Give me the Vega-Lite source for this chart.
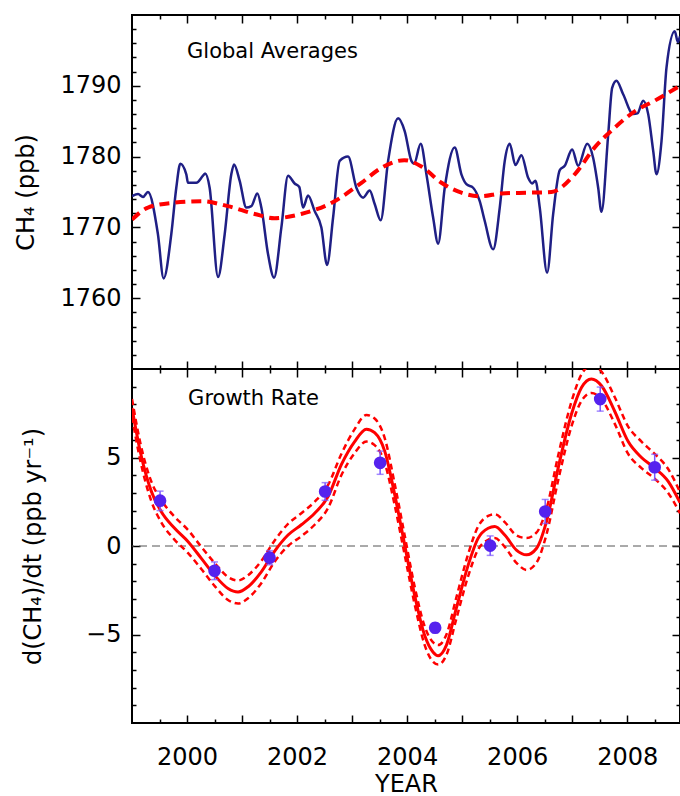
{
  "$schema": "https://vega.github.io/schema/vega-lite/v6.json",
  "padding": {"left": 13, "top": 13, "right": 0, "bottom": 0},
  "spacing": 0,
  "bounds": "flush",
  "config": {
    "font": "DejaVu Sans",
    "view": {"stroke": "black", "strokeWidth": 2},
    "axis": {"domain": false, "grid": false, "labelFont": "DejaVu Sans", "labelFontSize": 24, "labelColor": "black", "tickColor": "black", "tickWidth": 1.5, "titleFont": "DejaVu Sans", "titleFontSize": 24, "titleFontWeight": "normal", "titleColor": "black", "labelOverlap": false, "labelFlush": false}
  },
  "datasets": {
    "ga": [
      {"year": 1999.0, "ch4": 1774.4}, {"year": 1999.11, "ch4": 1774.7}, {"year": 1999.2, "ch4": 1774.3}, {"year": 1999.29, "ch4": 1775.0},
      {"year": 1999.47, "ch4": 1769.1}, {"year": 1999.575, "ch4": 1762.8}, {"year": 1999.715, "ch4": 1769.1}, {"year": 1999.805, "ch4": 1775.6},
      {"year": 1999.878, "ch4": 1779.0}, {"year": 1999.987, "ch4": 1777.5}, {"year": 2000.018, "ch4": 1776.3}, {"year": 2000.169, "ch4": 1776.3},
      {"year": 2000.291, "ch4": 1777.3}, {"year": 2000.33, "ch4": 1777.6}, {"year": 2000.411, "ch4": 1775.6}, {"year": 2000.564, "ch4": 1763.0},
      {"year": 2000.684, "ch4": 1769.0}, {"year": 2000.805, "ch4": 1777.5}, {"year": 2000.855, "ch4": 1778.9}, {"year": 2000.956, "ch4": 1776.6},
      {"year": 2001.078, "ch4": 1772.8}, {"year": 2001.169, "ch4": 1773.0}, {"year": 2001.278, "ch4": 1774.8}, {"year": 2001.351, "ch4": 1772.8},
      {"year": 2001.473, "ch4": 1766.2}, {"year": 2001.582, "ch4": 1762.9}, {"year": 2001.715, "ch4": 1770.0}, {"year": 2001.836, "ch4": 1777.3},
      {"year": 2001.956, "ch4": 1776.2}, {"year": 2002.04, "ch4": 1775.7}, {"year": 2002.109, "ch4": 1772.8}, {"year": 2002.2, "ch4": 1774.5},
      {"year": 2002.32, "ch4": 1772.3}, {"year": 2002.442, "ch4": 1770.0}, {"year": 2002.545, "ch4": 1764.7}, {"year": 2002.655, "ch4": 1771.4},
      {"year": 2002.775, "ch4": 1779.4}, {"year": 2002.927, "ch4": 1780.0}, {"year": 2003.078, "ch4": 1775.6}, {"year": 2003.2, "ch4": 1774.2},
      {"year": 2003.32, "ch4": 1775.2}, {"year": 2003.411, "ch4": 1773.3}, {"year": 2003.52, "ch4": 1771.0}, {"year": 2003.655, "ch4": 1779.4},
      {"year": 2003.836, "ch4": 1785.4}, {"year": 2003.956, "ch4": 1783.6}, {"year": 2004.078, "ch4": 1779.4}, {"year": 2004.127, "ch4": 1779.0},
      {"year": 2004.247, "ch4": 1781.8}, {"year": 2004.351, "ch4": 1777.5}, {"year": 2004.473, "ch4": 1771.4}, {"year": 2004.564, "ch4": 1767.7},
      {"year": 2004.684, "ch4": 1775.6}, {"year": 2004.865, "ch4": 1781.3}, {"year": 2004.987, "ch4": 1777.5}, {"year": 2005.078, "ch4": 1776.1},
      {"year": 2005.2, "ch4": 1775.6}, {"year": 2005.32, "ch4": 1773.7}, {"year": 2005.411, "ch4": 1770.9}, {"year": 2005.564, "ch4": 1766.9},
      {"year": 2005.684, "ch4": 1772.8}, {"year": 2005.775, "ch4": 1779.4}, {"year": 2005.865, "ch4": 1781.8}, {"year": 2005.969, "ch4": 1778.8},
      {"year": 2006.078, "ch4": 1780.2}, {"year": 2006.2, "ch4": 1777.0}, {"year": 2006.273, "ch4": 1776.2}, {"year": 2006.333, "ch4": 1776.6},
      {"year": 2006.411, "ch4": 1772.8}, {"year": 2006.545, "ch4": 1763.6}, {"year": 2006.655, "ch4": 1771.9}, {"year": 2006.775, "ch4": 1778.1},
      {"year": 2006.865, "ch4": 1778.7}, {"year": 2007.0, "ch4": 1781.0}, {"year": 2007.109, "ch4": 1778.7}, {"year": 2007.273, "ch4": 1781.8},
      {"year": 2007.382, "ch4": 1779.8}, {"year": 2007.473, "ch4": 1775.6}, {"year": 2007.533, "ch4": 1772.2}, {"year": 2007.655, "ch4": 1783.1},
      {"year": 2007.727, "ch4": 1789.7}, {"year": 2007.805, "ch4": 1790.7}, {"year": 2007.927, "ch4": 1788.8}, {"year": 2008.109, "ch4": 1786.0},
      {"year": 2008.187, "ch4": 1786.1}, {"year": 2008.291, "ch4": 1787.9}, {"year": 2008.382, "ch4": 1786.0}, {"year": 2008.473, "ch4": 1780.8},
      {"year": 2008.533, "ch4": 1777.5}, {"year": 2008.624, "ch4": 1782.2}, {"year": 2008.715, "ch4": 1792.6}, {"year": 2008.865, "ch4": 1797.7},
      {"year": 2008.92, "ch4": 1796.2}, {"year": 2008.96, "ch4": 1797.0}
    ],
    "trend": [
      {"year": 1999.0, "ch4": 1771.1}, {"year": 1999.29, "ch4": 1772.8}, {"year": 1999.775, "ch4": 1773.5}, {"year": 2000.26, "ch4": 1773.7},
      {"year": 2000.745, "ch4": 1773.0}, {"year": 2001.23, "ch4": 1771.9}, {"year": 2001.59, "ch4": 1771.3}, {"year": 2002.075, "ch4": 1771.9},
      {"year": 2002.684, "ch4": 1773.7}, {"year": 2003.17, "ch4": 1776.3}, {"year": 2003.53, "ch4": 1778.4}, {"year": 2003.95, "ch4": 1779.5},
      {"year": 2004.26, "ch4": 1778.6}, {"year": 2004.624, "ch4": 1776.3}, {"year": 2004.987, "ch4": 1774.9}, {"year": 2005.35, "ch4": 1774.4},
      {"year": 2005.715, "ch4": 1774.8}, {"year": 2006.2, "ch4": 1774.9}, {"year": 2006.624, "ch4": 1775.0}, {"year": 2007.047, "ch4": 1777.5},
      {"year": 2007.41, "ch4": 1781.3}, {"year": 2007.775, "ch4": 1784.1}, {"year": 2008.138, "ch4": 1786.4}, {"year": 2008.5, "ch4": 1787.9},
      {"year": 2008.96, "ch4": 1790.0}
    ],
    "rate": [
      {"year": 1999.0, "g": 7.8, "up": 8.3, "lo": 7.3}, {"year": 1999.16, "g": 5.2, "up": 5.7, "lo": 4.7},
      {"year": 1999.35, "g": 3.1, "up": 3.65, "lo": 2.55}, {"year": 1999.53, "g": 1.95, "up": 2.6, "lo": 1.35},
      {"year": 1999.775, "g": 1.0, "up": 1.65, "lo": 0.35}, {"year": 2000.02, "g": 0.24, "up": 0.9, "lo": -0.4},
      {"year": 2000.26, "g": -0.7, "up": -0.05, "lo": -1.3}, {"year": 2000.5, "g": -1.65, "up": -0.95, "lo": -2.25},
      {"year": 2000.745, "g": -2.4, "up": -1.75, "lo": -3.05}, {"year": 2000.927, "g": -2.6, "up": -1.95, "lo": -3.25},
      {"year": 2001.11, "g": -2.3, "up": -1.65, "lo": -2.95}, {"year": 2001.35, "g": -1.46, "up": -0.85, "lo": -2.1},
      {"year": 2001.59, "g": -0.3, "up": 0.3, "lo": -0.9}, {"year": 2001.836, "g": 0.62, "up": 1.25, "lo": 0.0},
      {"year": 2002.078, "g": 1.2, "up": 1.85, "lo": 0.55}, {"year": 2002.32, "g": 1.85, "up": 2.5, "lo": 1.2},
      {"year": 2002.564, "g": 2.8, "up": 3.45, "lo": 2.15}, {"year": 2002.805, "g": 4.6, "up": 5.2, "lo": 4.0},
      {"year": 2003.047, "g": 5.9, "up": 6.6, "lo": 5.25}, {"year": 2003.26, "g": 6.6, "up": 7.4, "lo": 5.9},
      {"year": 2003.41, "g": 6.4, "up": 7.2, "lo": 5.7}, {"year": 2003.593, "g": 5.36, "up": 6.1, "lo": 4.7},
      {"year": 2003.775, "g": 2.9, "up": 3.5, "lo": 2.3}, {"year": 2003.956, "g": 0.06, "up": 0.6, "lo": -0.5},
      {"year": 2004.138, "g": -2.8, "up": -2.3, "lo": -3.3}, {"year": 2004.32, "g": -5.06, "up": -4.55, "lo": -5.6},
      {"year": 2004.473, "g": -6.0, "up": -5.45, "lo": -6.55}, {"year": 2004.564, "g": -6.2, "up": -5.6, "lo": -6.7},
      {"year": 2004.715, "g": -5.6, "up": -5.0, "lo": -6.15}, {"year": 2004.896, "g": -3.5, "up": -2.9, "lo": -4.1},
      {"year": 2005.11, "g": -1.08, "up": -0.45, "lo": -1.7}, {"year": 2005.29, "g": 0.43, "up": 1.1, "lo": -0.2},
      {"year": 2005.473, "g": 1.0, "up": 1.7, "lo": 0.35}, {"year": 2005.593, "g": 1.1, "up": 1.8, "lo": 0.45},
      {"year": 2005.775, "g": 0.62, "up": 1.35, "lo": -0.05}, {"year": 2005.987, "g": -0.23, "up": 0.6, "lo": -0.95},
      {"year": 2006.17, "g": -0.5, "up": 0.45, "lo": -1.35}, {"year": 2006.35, "g": -0.14, "up": 0.75, "lo": -0.95},
      {"year": 2006.533, "g": 1.38, "up": 2.1, "lo": 0.65}, {"year": 2006.745, "g": 4.4, "up": 5.1, "lo": 3.7},
      {"year": 2006.987, "g": 7.44, "up": 8.15, "lo": 6.75}, {"year": 2007.17, "g": 8.95, "up": 9.7, "lo": 8.2},
      {"year": 2007.35, "g": 9.43, "up": 10.2, "lo": 8.65}, {"year": 2007.533, "g": 9.05, "up": 9.85, "lo": 8.3},
      {"year": 2007.775, "g": 7.6, "up": 8.4, "lo": 6.9}, {"year": 2008.018, "g": 5.9, "up": 6.75, "lo": 5.2},
      {"year": 2008.26, "g": 5.0, "up": 5.9, "lo": 4.4}, {"year": 2008.5, "g": 4.4, "up": 5.2, "lo": 3.8},
      {"year": 2008.745, "g": 3.65, "up": 4.35, "lo": 3.0}, {"year": 2008.96, "g": 2.45, "up": 3.05, "lo": 1.85}
    ],
    "obs": [
      {"year": 1999.51, "g": 2.56, "lo": 2.0, "hi": 3.1}, {"year": 2000.5, "g": -1.4, "lo": -1.9, "hi": -0.9},
      {"year": 2001.5, "g": -0.66, "lo": -1.06, "hi": -0.26}, {"year": 2002.51, "g": 3.08, "lo": 2.58, "hi": 3.58},
      {"year": 2003.51, "g": 4.7, "lo": 4.05, "hi": 5.36}, {"year": 2004.51, "g": -4.62, "lo": -4.9, "hi": -4.35},
      {"year": 2005.51, "g": 0.02, "lo": -0.53, "hi": 0.57}, {"year": 2006.51, "g": 1.95, "lo": 1.27, "hi": 2.63},
      {"year": 2007.51, "g": 8.3, "lo": 7.62, "hi": 8.98}, {"year": 2008.5, "g": 4.45, "lo": 3.72, "hi": 5.18}
    ],
    "zero": [{"g": 0}],
    "lab1": [{"label": "Global Averages"}],
    "lab2": [{"label": "Growth Rate"}]
  },
  "vconcat": [
    {
      "width": 548,
      "height": 354,
      "resolve": {"axis": {"x": "independent", "y": "independent"}},
      "layer": [
        {
          "data": {"name": "ga"},
          "mark": {"type": "line", "color": "#1f1f85", "strokeWidth": 2.5, "interpolate": "monotone", "clip": true},
          "encoding": {
            "x": {"field": "year", "type": "quantitative", "scale": {"domain": [1999, 2008.96], "nice": false, "zero": false},
              "axis": {"orient": "bottom", "title": null, "labels": false, "minExtent": 0, "maxExtent": 0, "values": [1999.5,2000,2000.5,2001,2001.5,2002,2002.5,2003,2003.5,2004,2004.5,2005,2005.5,2006,2006.5,2007,2007.5,2008,2008.5],
                "tickSize": {"condition": {"test": "datum.value % 1 === 0", "value": -8}, "value": -4}}},
            "y": {"field": "ch4", "type": "quantitative", "scale": {"domain": [1750, 1800], "nice": false, "zero": false},
              "axis": {"orient": "left", "title": "CH₄ (ppb)", "titleX": -99, "titleY": 177, "titleAngle": -90, "titleAlign": "center", "titleBaseline": "alphabetic",
                "values": [1752,1754,1756,1758,1760,1762,1764,1766,1768,1770,1772,1774,1776,1778,1780,1782,1784,1786,1788,1790,1792,1794,1796,1798],
                "labelExpr": "datum.value % 10 === 0 ? format(datum.value, 'd') : ''", "labelPadding": 19,
                "tickSize": {"condition": {"test": "datum.value % 10 === 0", "value": -8}, "value": -4}}}
          }
        },
        {
          "data": {"name": "trend"},
          "mark": {"type": "line", "color": "#ff0000", "strokeWidth": 4, "strokeDash": [10, 6], "interpolate": "monotone", "clip": true},
          "encoding": {
            "x": {"field": "year", "type": "quantitative", "scale": {"domain": [1999, 2008.96], "nice": false, "zero": false},
              "axis": {"orient": "top", "title": null, "labels": false, "minExtent": 0, "maxExtent": 0, "values": [1999.5,2000,2000.5,2001,2001.5,2002,2002.5,2003,2003.5,2004,2004.5,2005,2005.5,2006,2006.5,2007,2007.5,2008,2008.5],
                "tickSize": {"condition": {"test": "datum.value % 1 === 0", "value": -8}, "value": -4}}},
            "y": {"field": "ch4", "type": "quantitative", "scale": {"domain": [1750, 1800], "nice": false, "zero": false},
              "axis": {"orient": "right", "title": null, "labels": false, "minExtent": 0, "maxExtent": 0,
                "values": [1752,1754,1756,1758,1760,1762,1764,1766,1768,1770,1772,1774,1776,1778,1780,1782,1784,1786,1788,1790,1792,1794,1796,1798],
                "tickSize": {"condition": {"test": "datum.value % 10 === 0", "value": -8}, "value": -4}}}
          }
        },
        {
          "data": {"name": "lab1"},
          "mark": {"type": "text", "align": "left", "baseline": "alphabetic", "fontSize": 21, "color": "black", "font": "DejaVu Sans"},
          "encoding": {
            "x": {"datum": 2000.0, "type": "quantitative", "scale": {"domain": [1999, 2008.96], "nice": false, "zero": false}, "axis": null},
            "y": {"datum": 1793.9, "type": "quantitative", "scale": {"domain": [1750, 1800], "nice": false, "zero": false}, "axis": null},
            "text": {"field": "label"}
          }
        }
      ]
    },
    {
      "width": 548,
      "height": 354,
      "resolve": {"axis": {"x": "independent", "y": "independent"}},
      "layer": [
        {
          "data": {"name": "zero"},
          "mark": {"type": "rule", "color": "#555555", "strokeWidth": 1, "strokeDash": [8, 5]},
          "encoding": {
            "y": {"field": "g", "type": "quantitative", "scale": {"domain": [-10, 10], "nice": false, "zero": false}, "axis": null}
          }
        },
        {
          "data": {"name": "rate"},
          "mark": {"type": "line", "color": "#ff0000", "strokeWidth": 3, "interpolate": "monotone", "clip": true},
          "encoding": {
            "x": {"field": "year", "type": "quantitative", "scale": {"domain": [1999, 2008.96], "nice": false, "zero": false},
              "axis": {"orient": "bottom", "title": "YEAR", "titleX": 274, "titleY": 68, "titleBaseline": "alphabetic", "titleAlign": "center",
                "values": [1999.5,2000,2000.5,2001,2001.5,2002,2002.5,2003,2003.5,2004,2004.5,2005,2005.5,2006,2006.5,2007,2007.5,2008,2008.5],
                "labelExpr": "datum.value % 2 === 0 ? format(datum.value, 'd') : ''", "labelPadding": 30,
                "tickSize": {"condition": {"test": "datum.value % 1 === 0", "value": -8}, "value": -4}}},
            "y": {"field": "g", "type": "quantitative", "scale": {"domain": [-10, 10], "nice": false, "zero": false},
              "axis": {"orient": "left", "title": "d(CH₄)/dt (ppb yr⁻¹)", "titleX": -92, "titleY": 177, "titleAngle": -90, "titleAlign": "center", "titleBaseline": "alphabetic",
                "values": [-9,-8,-7,-6,-5,-4,-3,-2,-1,0,1,2,3,4,5,6,7,8,9],
                "labelExpr": "datum.value % 5 === 0 ? format(datum.value, 'd') : ''", "labelPadding": 19,
                "tickSize": {"condition": {"test": "datum.value % 5 === 0", "value": -8}, "value": -4}}}
          }
        },
        {
          "data": {"name": "rate"},
          "mark": {"type": "line", "color": "#ff0000", "strokeWidth": 2.5, "strokeDash": [6, 4], "interpolate": "monotone", "clip": true},
          "encoding": {
            "x": {"field": "year", "type": "quantitative", "scale": {"domain": [1999, 2008.96], "nice": false, "zero": false},
              "axis": {"orient": "top", "title": null, "labels": false, "minExtent": 0, "maxExtent": 0, "values": [1999.5,2000,2000.5,2001,2001.5,2002,2002.5,2003,2003.5,2004,2004.5,2005,2005.5,2006,2006.5,2007,2007.5,2008,2008.5],
                "tickSize": {"condition": {"test": "datum.value % 1 === 0", "value": -8}, "value": -4}}},
            "y": {"field": "up", "type": "quantitative", "scale": {"domain": [-10, 10], "nice": false, "zero": false},
              "axis": {"orient": "right", "title": null, "labels": false, "minExtent": 0, "maxExtent": 0, "values": [-9,-8,-7,-6,-5,-4,-3,-2,-1,0,1,2,3,4,5,6,7,8,9],
                "tickSize": {"condition": {"test": "datum.value % 5 === 0", "value": -8}, "value": -4}}}
          }
        },
        {
          "data": {"name": "rate"},
          "mark": {"type": "line", "color": "#ff0000", "strokeWidth": 2.5, "strokeDash": [6, 4], "interpolate": "monotone", "clip": true},
          "encoding": {
            "x": {"field": "year", "type": "quantitative", "scale": {"domain": [1999, 2008.96], "nice": false, "zero": false}, "axis": null},
            "y": {"field": "lo", "type": "quantitative", "scale": {"domain": [-10, 10], "nice": false, "zero": false}, "axis": null}
          }
        },
        {
          "data": {"name": "obs"},
          "mark": {"type": "errorbar", "color": "#7a55ff", "thickness": 1.5, "ticks": {"size": 7, "thickness": 1.5, "color": "#7a55ff"}},
          "encoding": {
            "x": {"field": "year", "type": "quantitative", "scale": {"domain": [1999, 2008.96], "nice": false, "zero": false}, "axis": null},
            "y": {"field": "lo", "type": "quantitative", "scale": {"domain": [-10, 10], "nice": false, "zero": false}, "axis": null},
            "y2": {"field": "hi"}
          }
        },
        {
          "data": {"name": "obs"},
          "mark": {"type": "circle", "color": "#5522ee", "opacity": 1, "size": 160},
          "encoding": {
            "x": {"field": "year", "type": "quantitative", "scale": {"domain": [1999, 2008.96], "nice": false, "zero": false}, "axis": null},
            "y": {"field": "g", "type": "quantitative", "scale": {"domain": [-10, 10], "nice": false, "zero": false}, "axis": null}
          }
        },
        {
          "data": {"name": "lab2"},
          "mark": {"type": "text", "align": "left", "baseline": "alphabetic", "fontSize": 21, "color": "black", "font": "DejaVu Sans"},
          "encoding": {
            "x": {"datum": 2000.02, "type": "quantitative", "scale": {"domain": [1999, 2008.96], "nice": false, "zero": false}, "axis": null},
            "y": {"datum": 7.97, "type": "quantitative", "scale": {"domain": [-10, 10], "nice": false, "zero": false}, "axis": null},
            "text": {"field": "label"}
          }
        }
      ]
    }
  ]
}
